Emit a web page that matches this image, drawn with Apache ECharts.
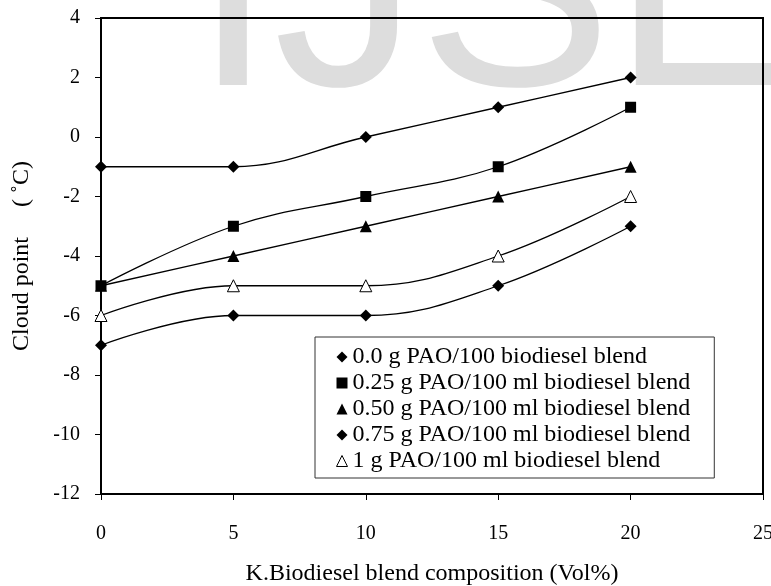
<!DOCTYPE html>
<html>
<head>
<meta charset="utf-8">
<title>Cloud point</title>
<script src="https://cdn.jsdelivr.net/npm/echarts@6/dist/echarts.min.js"></script>
<style>
  html, body { margin: 0; padding: 0; background: #fff; }
  #chart { width: 771px; height: 586px; }
</style>
</head>
<body>
<div id="chart"></div>
<script>
// blend composition (Vol%)
var blend = [0, 5, 10, 15, 20];
var seriesNames = [
  "0.0 g PAO/100 biodiesel blend",
  "0.25 g PAO/100 ml biodiesel blend",
  "0.50 g PAO/100 ml biodiesel blend",
  "0.75 g PAO/100 ml biodiesel blend",
  "1 g PAO/100 ml biodiesel blend"
];
// cloud point values (°C)
var pao000 = [-1, -1, 0, 1, 2];
var pao025 = [-5, -3, -2, -1, 1];
var pao050 = [-5, -4, -3, -2, -1];
var pao075 = [-7, -6, -6, -5, -3];
var pao100 = [-6, -5, -5, -4, -2];

var symbols = ["diamond", "rect", "triangle", "diamond", "triangle"];
var sizes = [12, 11, 12, 12, 12];
var values = [pao000, pao025, pao050, pao075, pao100];

var font = "Liberation Serif";

function pairs(arr) {
  return blend.map(function (x, i) { return [x, arr[i]]; });
}

var series = values.map(function (arr, i) {
  var open = i === 4;
  return {
    name: seriesNames[i],
    type: "line",
    smooth: 0.4,
    data: pairs(arr),
    symbol: symbols[i],
    symbolSize: sizes[i],
    lineStyle: { color: "#000", width: 1.3 },
    itemStyle: open
      ? { color: "#fff", borderColor: "#000", borderWidth: 1 }
      : { color: "#000" },
    emphasis: { disabled: true }
  };
});

var chart = echarts.init(document.getElementById("chart"));
chart.setOption({
  animation: false,
  backgroundColor: "#fff",
  graphic: [{
    type: "text",
    z: -10,
    left: 193,
    top: -140,
    style: {
      text: "IJSER",
      font: "290px 'Liberation Sans'",
      fill: "#dddddd"
    }
  }],
  grid: {
    left: 101, right: 8, top: 18, bottom: 92,
    outerBoundsMode: "none",
    containLabel: false,
    show: true, borderColor: "#000", borderWidth: 2
  },
  legend: {
    orient: "vertical",
    left: 315, top: 337,
    padding: [7, 24, 4, 21],
    borderColor: "#333", borderWidth: 1,
    backgroundColor: "#fff",
    itemWidth: 11, itemHeight: 11,
    itemGap: 0,
    textStyle: { fontFamily: font, fontSize: 24, color: "#000", lineHeight: 26 },
    data: seriesNames.map(function (n, i) {
      return i === 4
        ? { name: n, icon: "triangle", itemStyle: { color: "#fff", borderColor: "#000", borderWidth: 1 } }
        : { name: n, icon: symbols[i], itemStyle: { color: "#000" } };
    })
  },
  xAxis: {
    type: "value",
    min: 0, max: 25, interval: 5,
    name: "K.Biodiesel blend composition (Vol%)",
    nameLocation: "middle",
    nameGap: 68,
    nameTextStyle: { fontFamily: font, fontSize: 24, color: "#000" },
    axisLine: { onZero: false, lineStyle: { color: "#000", width: 2 } },
    axisTick: { inside: false, length: 6, lineStyle: { color: "#000", width: 1 } },
    axisLabel: { fontFamily: font, fontSize: 20, color: "#000", margin: 30 },
    splitLine: { show: false }
  },
  yAxis: {
    type: "value",
    min: -12, max: 4, interval: 2,
    name: "Cloud point     ( \u02daC)",
    nameLocation: "middle",
    nameGap: 67,
    nameTextStyle: { fontFamily: font, fontSize: 24, color: "#000" },
    axisLine: { onZero: false, lineStyle: { color: "#000", width: 2 } },
    axisTick: { inside: false, length: 6, lineStyle: { color: "#000", width: 1 } },
    axisLabel: { fontFamily: font, fontSize: 20, color: "#000", margin: 21 },
    splitLine: { show: false }
  },
  series: series
});
</script>
</body>
</html>
